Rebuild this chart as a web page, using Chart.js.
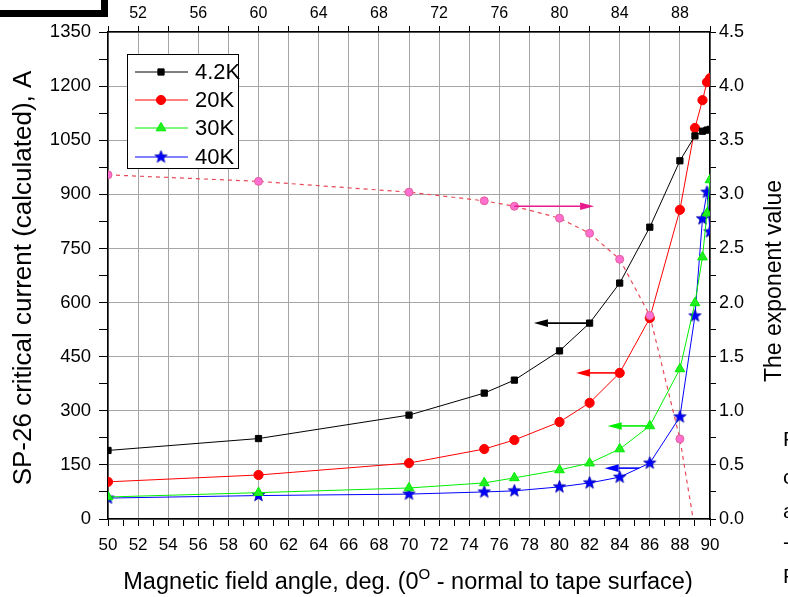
<!DOCTYPE html>
<html>
<head>
<meta charset="utf-8">
<script src="https://cdn.jsdelivr.net/npm/chart.js@4.4.0/dist/chart.umd.min.js"></script>
<style>
  body { margin: 0; background: #fff; }
  #wrap { position: relative; width: 788px; height: 597px; overflow: hidden; }
  #chart { position: absolute; left: 0; top: 0; }
  .bar { position: absolute; background: #000; }
  .cut { position: absolute; left: 783px; font: 21px "Liberation Sans", Arial, sans-serif; color: #000; }
</style>
</head>
<body>
<div id="wrap">
  <canvas id="chart" width="788" height="597"></canvas>
  <div class="bar" style="left:0;top:10px;width:108px;height:7px"></div>
  <div class="bar" style="left:101px;top:0;width:7px;height:17px"></div>
  <div class="cut" style="top:427px">F</div>
  <div class="cut" style="top:465px">c</div>
  <div class="cut" style="top:499px">a</div>
  <div class="cut" style="top:530px">-</div>
  <div class="cut" style="top:564px">F</div>
</div>
<script>
// ---- DATA ----
const angles = [50, 60, 70, 75, 77, 80, 82, 84, 86, 88, 89, 89.5, 89.8, 90];
const ic42K  = [190, 223, 288, 349, 385, 466, 543, 654, 809, 993, 1062, 1075, 1078, 1080];
const ic20K  = [103, 122, 155, 194, 219, 269, 322, 405, 557, 857, 1084, 1161, 1211, 1222];
const ic30K  = [61, 73, 86, 100, 114, 136, 155, 194, 258, 416, 599, 726, 848, 940];
const ic40K  = [58, 65, 69, 75, 78, 89, 100, 116, 155, 283, 563, 832, 906, 796];

const expAngles = [50, 60, 70, 75, 77, 80, 82, 84, 86, 88, 89];
const expValues = [3.18, 3.12, 3.02, 2.94, 2.89, 2.78, 2.64, 2.40, 1.88, 0.74, -0.1];

const seriesNames = ['4.2K', '20K', '30K', '40K'];

// arrows pointing to the axis each curve belongs to (data units)
const arrows = [
  { from: 82,   to: 78.3, y: 543,  axis: 'y',  color: '#000000' },
  { from: 84,   to: 81.1, y: 405,  axis: 'y',  color: '#ff0000' },
  { from: 86,   to: 83.2, y: 258,  axis: 'y',  color: '#00ee00' },
  { from: 85.3, to: 83.0, y: 141,  axis: 'y',  color: '#0000ff' },
  { from: 77,   to: 82.3, y: 2.89, axis: 'y2', color: '#e8198b' }
];

const FONT = '"Liberation Sans", Arial, sans-serif';
const GRID = '#a6a6a6';

// filled five-pointed star marker
function makeStar(r, fill, stroke) {
  const c = document.createElement('canvas');
  const s = Math.ceil(r * 2 + 2);
  c.width = s; c.height = s;
  const g = c.getContext('2d');
  g.beginPath();
  for (let i = 0; i < 10; i++) {
    const rad = i % 2 === 0 ? r : r * 0.42;
    const a = -Math.PI / 2 + i * Math.PI / 5;
    const px = s / 2 + rad * Math.cos(a), py = s / 2 + rad * Math.sin(a);
    i === 0 ? g.moveTo(px, py) : g.lineTo(px, py);
  }
  g.closePath();
  g.fillStyle = fill; g.fill();
  g.strokeStyle = stroke; g.lineWidth = 0.8; g.stroke();
  return c;
}
const star = makeStar(6.5, '#0000ff', '#0000aa');

const pts = arr => angles.map((a, i) => ({ x: a, y: arr[i] }));

const styles = [
  { color: '#000000', pointStyle: 'rect',     radius: 4.4 },
  { color: '#ff0000', pointStyle: 'circle',   radius: 4.6 },
  { color: '#00ee00', pointStyle: 'triangle', radius: 5.6 },
  { color: '#0000ff', pointStyle: star,       radius: 6.5 }
];

const currentSets = [ic42K, ic20K, ic30K, ic40K].map((arr, i) => ({
  label: seriesNames[i],
  data: pts(arr),
  yAxisID: 'y',
  borderColor: styles[i].color,
  backgroundColor: styles[i].color,
  pointBackgroundColor: i === 2 ? '#22ee22' : styles[i].color,
  pointBorderColor: styles[i].color,
  borderWidth: 1,
  pointStyle: styles[i].pointStyle,
  pointRadius: styles[i].radius,
  pointBorderWidth: 1,
  tension: 0
}));

const exponentSet = {
  label: 'exponent',
  data: expAngles.map((a, i) => ({ x: a, y: expValues[i] })),
  yAxisID: 'y2',
  borderColor: '#e84a5a',
  borderDash: [4, 4],
  borderWidth: 1.2,
  pointStyle: 'circle',
  pointRadius: 4,
  pointBackgroundColor: '#ff6fd2',
  pointBorderColor: '#e0609a',
  pointBorderWidth: 1,
  tension: 0
};

const decorations = {
  id: 'decorations',
  afterDraw(chart) {
    const ctx = chart.ctx;
    const xs = chart.scales.x;

    // arrows
    arrows.forEach(a => {
      const ys = chart.scales[a.axis];
      const x1 = xs.getPixelForValue(a.from), x2 = xs.getPixelForValue(a.to);
      const y = ys.getPixelForValue(a.y);
      const dir = x2 > x1 ? 1 : -1, head = 14, half = 3.8;
      ctx.save();
      ctx.strokeStyle = a.color; ctx.fillStyle = a.color; ctx.lineWidth = 1.6;
      ctx.beginPath(); ctx.moveTo(x1, y); ctx.lineTo(x2 - dir * head, y); ctx.stroke();
      ctx.beginPath();
      ctx.moveTo(x2, y);
      ctx.lineTo(x2 - dir * head, y - half);
      ctx.lineTo(x2 - dir * head, y + half);
      ctx.closePath(); ctx.fill();
      ctx.restore();
    });

    // legend
    ctx.save();
    ctx.fillStyle = '#fff';
    ctx.fillRect(127.5, 54.5, 111, 114);
    ctx.strokeStyle = '#000'; ctx.lineWidth = 1;
    ctx.strokeRect(127.5, 54.5, 111, 114);
    const rows = [72, 100, 128, 157];
    currentSets.forEach((ds, i) => {
      const y = rows[i];
      ctx.strokeStyle = ds.borderColor; ctx.lineWidth = 1;
      ctx.beginPath(); ctx.moveTo(135, y); ctx.lineTo(188, y); ctx.stroke();
      ctx.fillStyle = ds.pointBackgroundColor; ctx.strokeStyle = ds.pointBorderColor;
      Chart.helpers.drawPoint(ctx, { pointStyle: ds.pointStyle, radius: ds.pointRadius, borderWidth: 1, rotation: 0 }, 161, y);
      ctx.fillStyle = '#000';
      ctx.font = '22px ' + FONT;
      ctx.textAlign = 'left'; ctx.textBaseline = 'middle';
      ctx.fillText(ds.label, 195, y + 1);
    });
    ctx.restore();

    // axis titles
    ctx.save();
    ctx.fillStyle = '#000';
    ctx.textAlign = 'center'; ctx.textBaseline = 'middle';
    ctx.font = '26px ' + FONT;
    ctx.save(); ctx.translate(24, 278); ctx.rotate(-Math.PI / 2);
    ctx.fillText('SP-26 critical current (calculated), A', 0, 0); ctx.restore();
    ctx.font = '23px ' + FONT;
    ctx.save(); ctx.translate(775, 281); ctx.rotate(-Math.PI / 2);
    ctx.fillText('The exponent value', 0, 0); ctx.restore();

    // bottom title with superscript O
    const p1 = 'Magnetic field angle, deg. (0', sup = 'O', p2 = ' - normal to tape surface)';
    ctx.textAlign = 'left'; ctx.textBaseline = 'alphabetic';
    const big = '23.5px ' + FONT, small = '15px ' + FONT;
    ctx.font = big; const w1 = ctx.measureText(p1).width, w3 = ctx.measureText(p2).width;
    ctx.font = small; const w2 = ctx.measureText(sup).width;
    let x = 408 - (w1 + w2 + w3) / 2;
    const base = 589;
    ctx.font = big; ctx.fillText(p1, x, base); x += w1;
    ctx.font = small; ctx.fillText(sup, x, base - 10); x += w2;
    ctx.font = big; ctx.fillText(p2, x, base);
    ctx.restore();
  }
};

new Chart(document.getElementById('chart'), {
  type: 'line',
  data: { datasets: [exponentSet, ...currentSets] },
  options: {
    responsive: false,
    animation: false,
    parsing: true,
    layout: { padding: 0 },
    plugins: { legend: { display: false }, tooltip: { enabled: false } },
    scales: {
      x: {
        type: 'linear', position: 'bottom', min: 50, max: 90,
        afterFit: s => { s.height = 78; },
        ticks: {
          stepSize: 1, autoSkip: false, maxRotation: 0, padding: 9,
          color: '#000', font: { family: FONT, size: 17 },
          callback: v => (v % 2 === 0 ? v : '')
        },
        grid: {
          color: c => (c.tick && c.tick.value % 2 === 0 ? GRID : 'rgba(0,0,0,0)'),
          tickColor: '#000', tickLength: 7, lineWidth: 1
        },
        border: { display: true, color: '#000', width: 1.5 }
      },
      x2: {
        type: 'linear', position: 'top', min: 50, max: 90,
        afterFit: s => { s.height = 32; },
        ticks: {
          stepSize: 2, autoSkip: false, maxRotation: 0, padding: 3,
          color: '#000', font: { family: FONT, size: 16 },
          callback: v => ((v - 52) % 4 === 0 ? v : '')
        },
        grid: { drawOnChartArea: false, tickColor: '#000', tickLength: 6 },
        border: { display: true, color: '#000', width: 1.5 }
      },
      y: {
        type: 'linear', position: 'left', min: 0, max: 1350,
        afterFit: s => { s.width = 108; },
        ticks: {
          stepSize: 75, autoSkip: false, padding: 8,
          color: '#000', font: { family: FONT, size: 18.5 },
          callback: v => (v % 150 === 0 ? v : '')
        },
        grid: {
          color: c => (c.tick && c.tick.value % 150 === 0 ? GRID : 'rgba(0,0,0,0)'),
          tickColor: '#000', tickLength: 9, lineWidth: 1
        },
        border: { display: true, color: '#000', width: 1.5 }
      },
      y2: {
        type: 'linear', position: 'right', min: 0, max: 4.5,
        afterFit: s => { s.width = 78; },
        ticks: {
          stepSize: 0.25, autoSkip: false, padding: 3,
          color: '#000', font: { family: FONT, size: 18 },
          callback: v => (Math.abs(v * 2 - Math.round(v * 2)) < 1e-6 ? v.toFixed(1) : '')
        },
        grid: { drawOnChartArea: false, tickColor: '#000', tickLength: 6 },
        border: { display: true, color: '#000', width: 1.5 }
      }
    }
  },
  plugins: [decorations]
});
</script>
</body>
</html>
